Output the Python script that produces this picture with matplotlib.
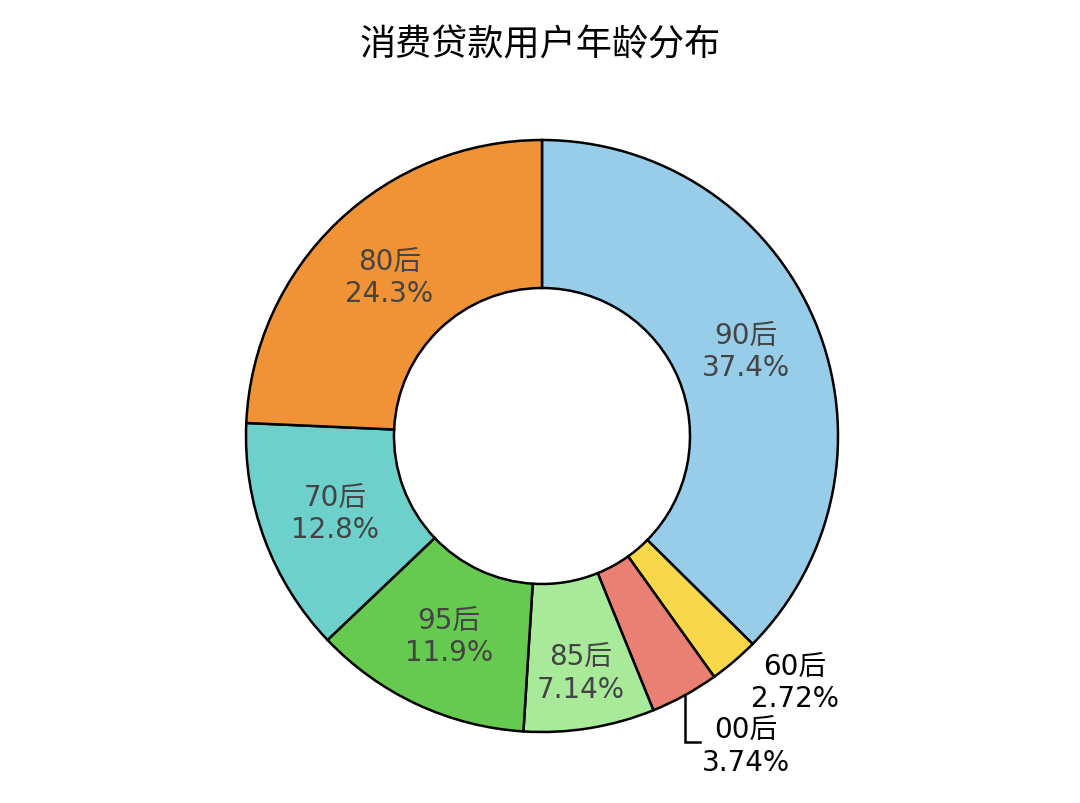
import numpy as np
import matplotlib
matplotlib.use('Agg')
import matplotlib.pyplot as plt

# === Daten ===
kategorien = ['90后', '60后', '00后', '85后', '95后', '70后', '80后']
anteile = [37.4, 2.72, 3.74, 7.14, 11.9, 12.8, 24.3]
prozent_text = ['37.4%', '2.72%', '3.74%', '7.14%', '11.9%', '12.8%', '24.3%']
farben = ['#97CDE9', '#F9D74B', '#EA7F73', '#A8EA9A', '#66C950', '#6ED0CA', '#F09337']

schrift = ['DejaVu Sans', 'Noto Sans CJK SC']
plt.rcParams['font.family'] = schrift

fig = plt.figure(figsize=(10.8, 8.04), dpi=100)

# Achse so legen, dass Radius 1 = 296 px, Mitte bei (542, 437)
r_px = 296
cx, cy = 542, 804 - 437
ax = fig.add_axes([(cx - r_px) / 1080, (cy - r_px) / 804, 2 * r_px / 1080, 2 * r_px / 804])

wedges, _ = ax.pie(anteile, colors=farben, startangle=90, counterclock=False,
                   radius=1.0, wedgeprops=dict(width=0.5, edgecolor='black', linewidth=1.8))
for w in wedges:
    w.set_clip_on(False)
ax.set_xlim(-1, 1)
ax.set_ylim(-1, 1)
ax.set_aspect('equal')
ax.axis('off')

# Beschriftungen
aussen = {'60后', '00后'}
for w, kat, pt in zip(wedges, kategorien, prozent_text):
    mitte = np.deg2rad((w.theta1 + w.theta2) / 2)
    if kat not in aussen:
        rad = 0.81 if kat == '85后' else 0.745
        ax.text(rad * np.cos(mitte), rad * np.sin(mitte), f'{kat}\n{pt}',
                ha='center', va='center', fontsize=20, color='#444444',
                linespacing=1.2, family=schrift)
    else:
        ex, ey = np.cos(mitte), np.sin(mitte)
        if kat == '60后':
            ax.text(0.706, -0.83, f'{kat}\n{pt}', ha='left', va='center',
                    multialignment='center', fontsize=20, color='black',
                    linespacing=1.2, family=schrift)
        else:
            ax.plot([ex, ex, ex + 0.05], [ey, -1.033, -1.033], color='black',
                    lw=1.8, clip_on=False, solid_joinstyle='miter')
            ax.text(0.54, -1.045, f'{kat}\n{pt}', ha='left', va='center',
                    multialignment='center', fontsize=20, color='black',
                    linespacing=1.2, family=schrift)

fig.text(0.5, 1 - 45 / 804, '消费贷款用户年龄分布', ha='center', va='center',
         fontsize=26, color='black', family=['Noto Sans CJK SC', 'DejaVu Sans'])

plt.savefig('out.png', dpi=100, facecolor='white')
